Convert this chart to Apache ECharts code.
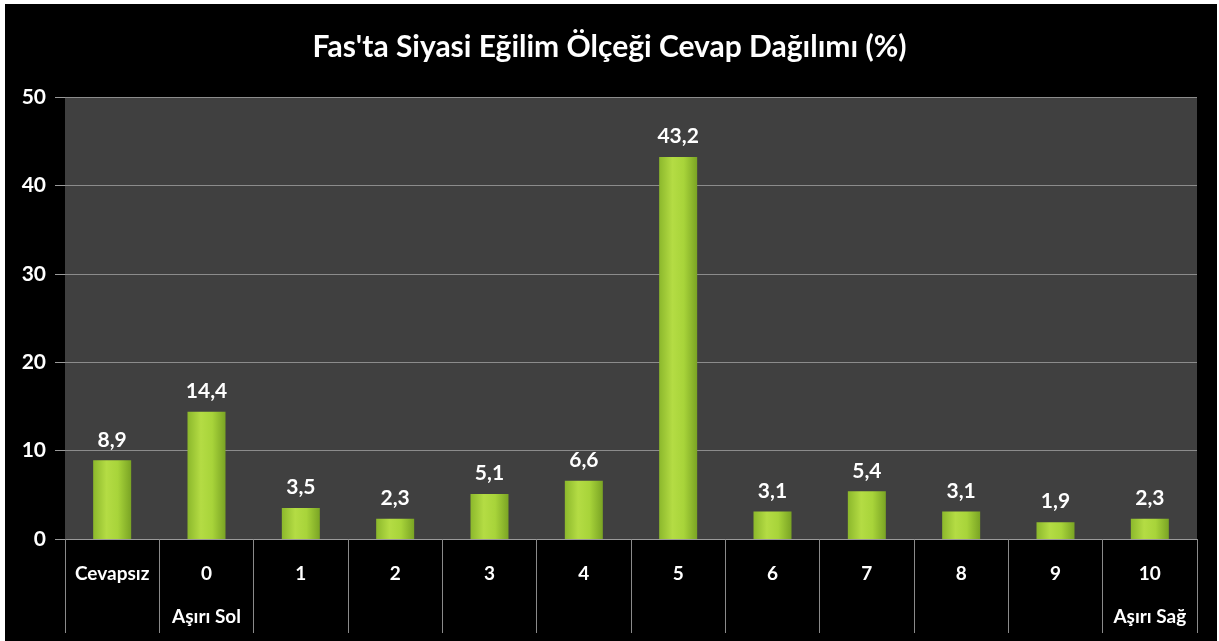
<!DOCTYPE html>
<html>
<head>
<meta charset="utf-8">
<script src="https://cdn.jsdelivr.net/npm/echarts@6/dist/echarts.min.js"></script>
<style>
html,body{margin:0;padding:0;background:#fff;}
#main{width:1219px;height:641px;}
</style>
</head>
<body>
<div id="main"></div>
<script>
// kategoriler ve degerler
var categories = ['Cevapsız', '0\nAşırı Sol', '1', '2', '3', '4', '5', '6', '7', '8', '9', '10\nAşırı Sağ'];
var values = [8.9, 14.4, 3.5, 2.3, 5.1, 6.6, 43.2, 3.1, 5.4, 3.1, 1.9, 2.3];
var yTicks = [0, 10, 20, 30, 40, 50];

var fontName = 'Lato';

var myChart = echarts.init(document.getElementById('main'));

var option = {
    backgroundColor: '#000',
    animation: false,
    title: {
        text: "Fas'ta Siyasi Eğilim Ölçeği Cevap Dağılımı (%)",
        left: 'center',
        top: 27,
        textStyle: {color: '#fff', fontFamily: fontName, fontWeight: 'bold', fontSize: 30}
    },
    graphic: [
        //beyaz kenar
        {type: 'rect', shape: {x: 0, y: 0, width: 1219, height: 4}, style: {fill: '#fff'}},
        {type: 'rect', shape: {x: 0, y: 0, width: 5, height: 641}, style: {fill: '#fff'}},
        {type: 'rect', shape: {x: 1217, y: 0, width: 2, height: 641}, style: {fill: '#fff'}}
    ],
    grid: {
        left: 65, right: 22, top: 97, bottom: 102,
        show: true, backgroundColor: '#404040', borderWidth: 0
    },
    xAxis: {
        type: 'category',
        data: categories,
        axisLine: {lineStyle: {color: '#9a9a9a', width: 1}},
        axisTick: {show: true, length: 94, lineStyle: {color: '#8a8a8a'}},
        axisLabel: {
            color: '#fff', fontFamily: fontName, fontWeight: 'bold', fontSize: 19,
            lineHeight: 43, margin: 13, interval: 0
        }
    },
    yAxis: {
        type: 'value',
        min: yTicks[0], max: yTicks[yTicks.length - 1], interval: 10,
        axisLine: {show: false},
        axisTick: {show: true, length: 10, lineStyle: {color: '#9a9a9a'}},
        axisLabel: {color: '#fff', fontFamily: fontName, fontWeight: 'bold', fontSize: 21, margin: 19},
        splitLine: {lineStyle: {color: '#8c8c8c', width: 1}}
    },
    series: [{
        type: 'bar',
        data: values,
        barWidth: 38,
        itemStyle: {
            color: new echarts.graphic.LinearGradient(0, 0, 1, 0, [
                {offset: 0, color: '#8cb82c'},
                {offset: 0.35, color: '#b4dc44'},
                {offset: 0.65, color: '#a8d43a'},
                {offset: 1, color: '#7aa424'}
            ]),
            borderWidth: 0
        },
        label: {
            show: true,
            position: 'top',
            distance: 10,
            color: '#fff',
            fontFamily: fontName,
            fontWeight: 'bold',
            fontSize: 21,
            formatter: function(p){ return String(p.value).replace('.', ','); }
        }
    }]
};

myChart.setOption(option);
</script>
</body>
</html>
